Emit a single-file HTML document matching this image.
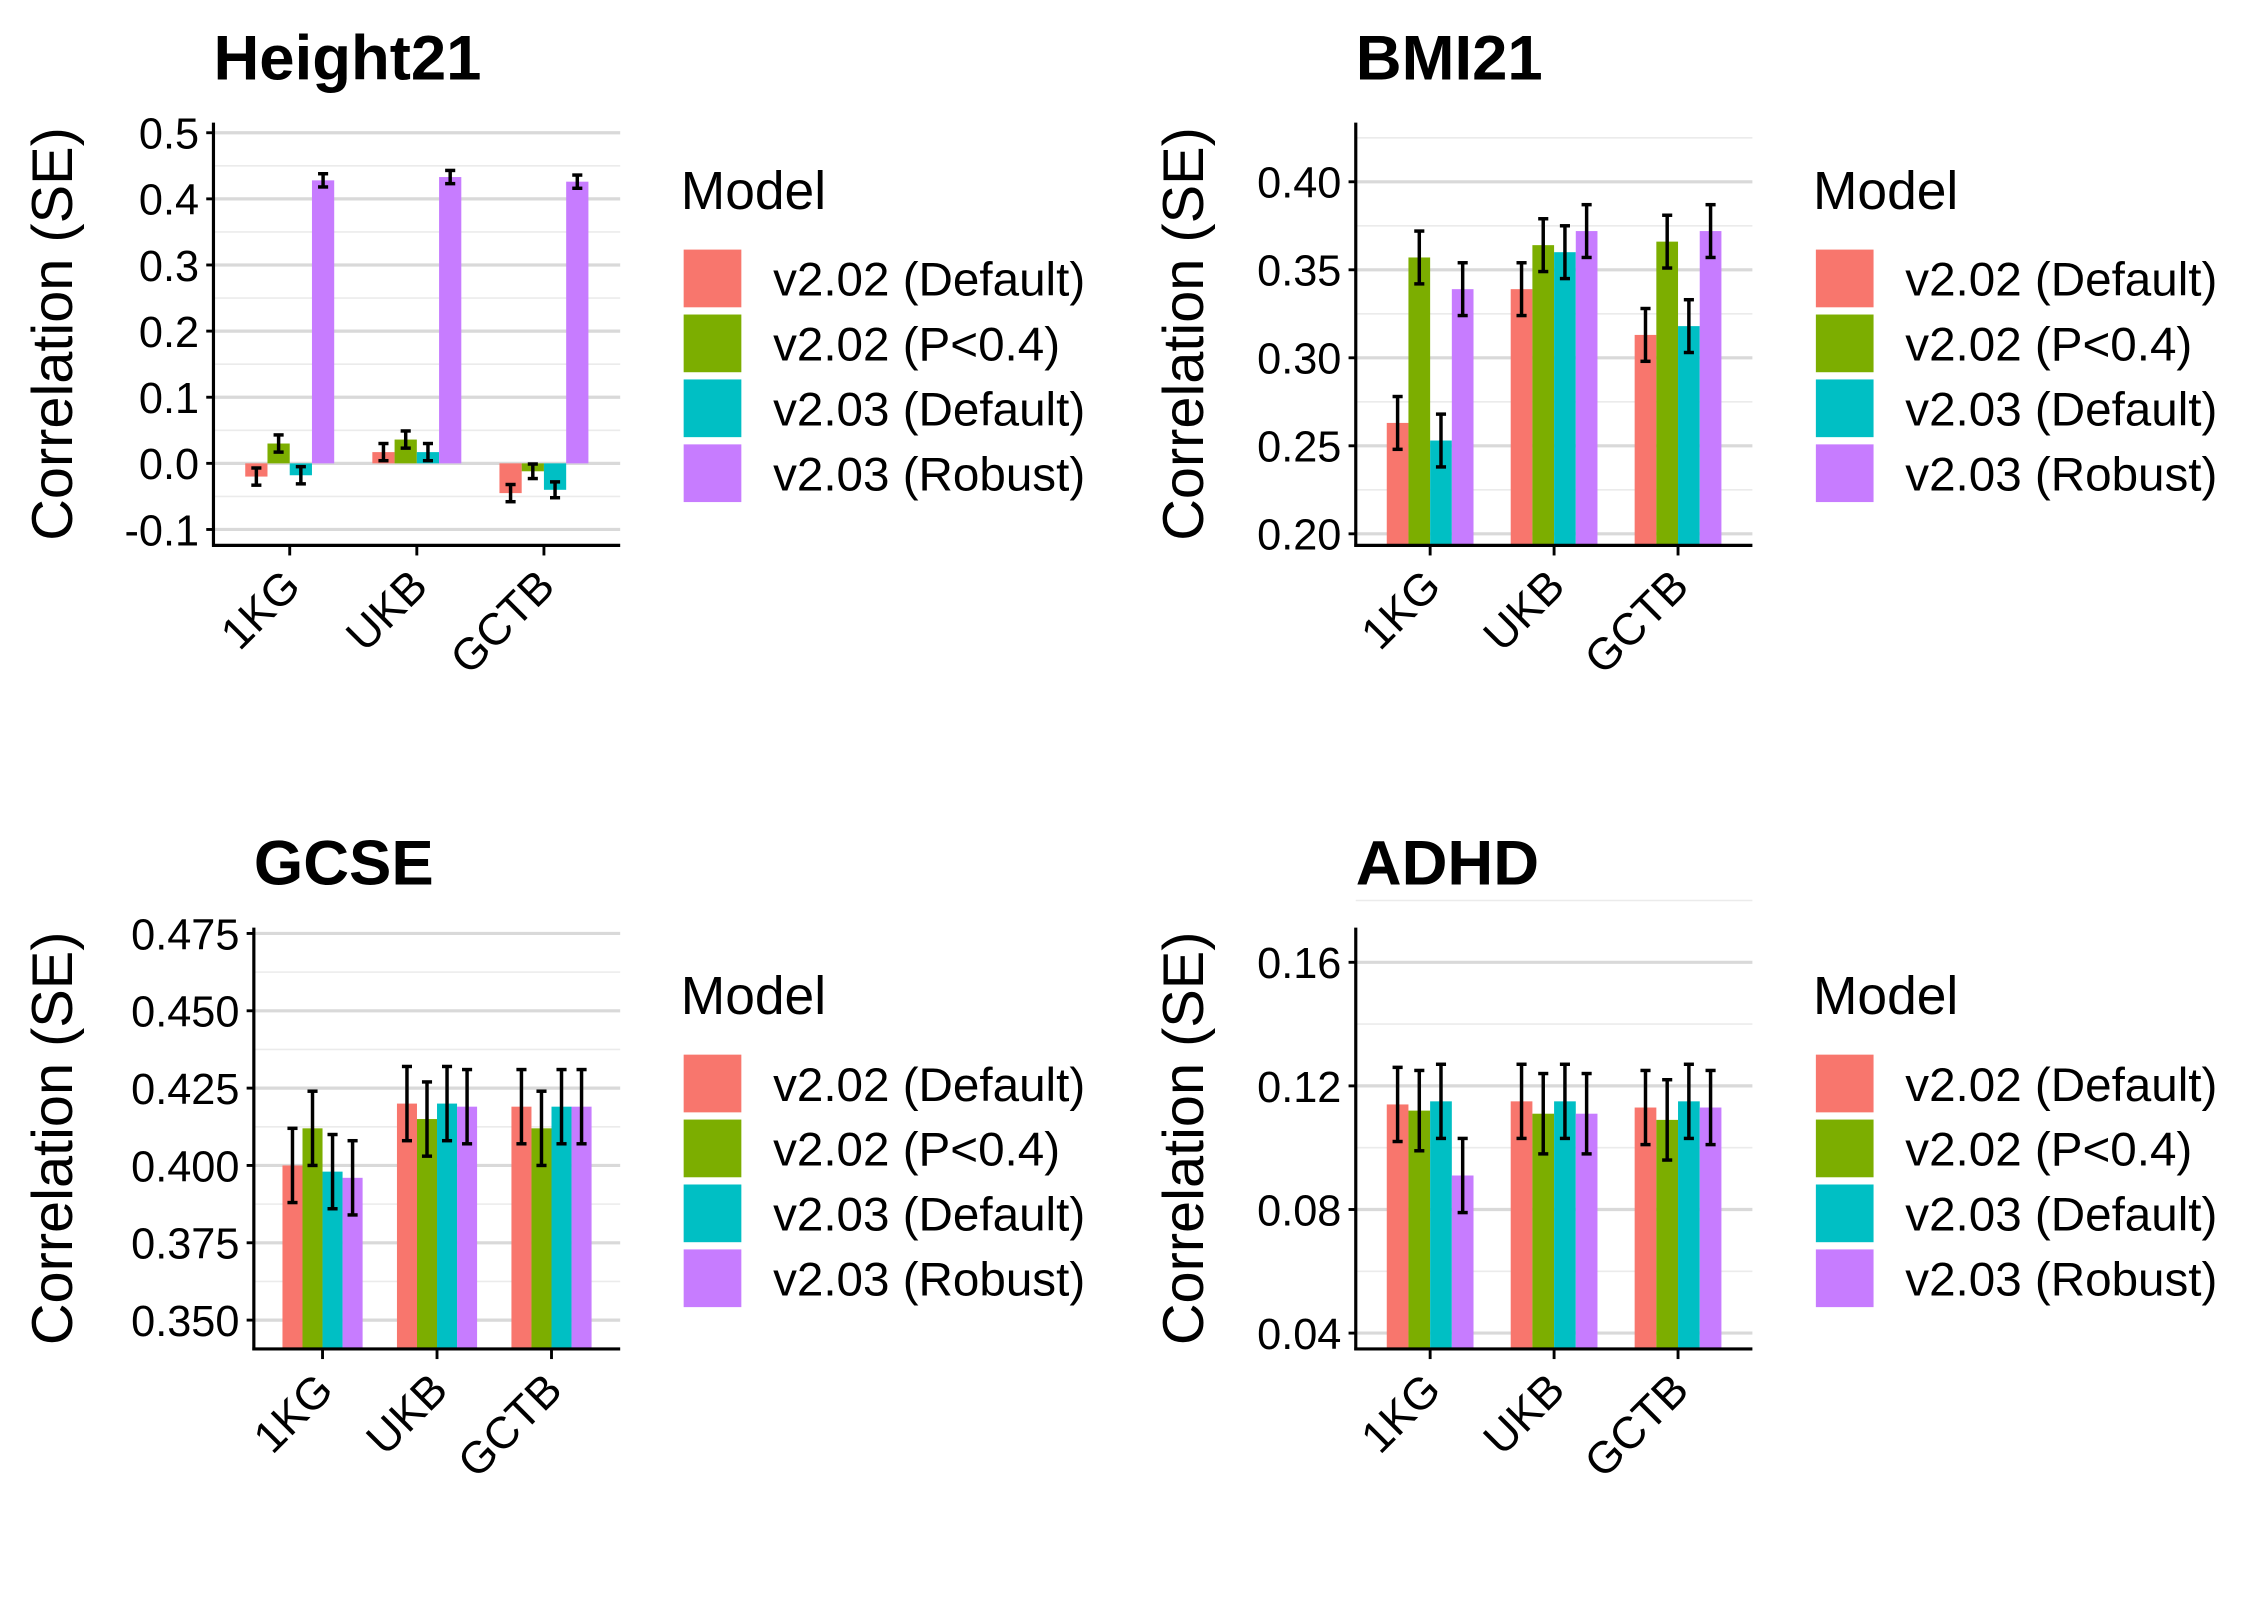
<!DOCTYPE html>
<html><head><meta charset="utf-8"><style>
html,body{margin:0;padding:0;background:#fff;width:2250px;height:1600px;overflow:hidden;}
svg{display:block;font-family:"Liberation Sans",Arial,sans-serif;}
</style></head><body>
<svg id="chart" width="2250" height="1600" viewBox="0 0 1560 1109" preserveAspectRatio="none" xmlns="http://www.w3.org/2000/svg"></svg>
<script>
const categories = ["1KG","UKB","GCTB"];
const models = ["v2.02 (Default)","v2.02 (P<0.4)","v2.03 (Default)","v2.03 (Robust)"];
const colors = ["#F8766D","#7CAE00","#00BFC4","#C77CFF"];

const heightVals = [[-0.020,0.030,-0.018,0.428],[0.017,0.036,0.017,0.433],[-0.045,-0.012,-0.040,0.426]];
const heightSE = [[0.013,0.013,0.013,0.010],[0.013,0.013,0.013,0.010],[0.013,0.011,0.012,0.010]];
const heightTicks = [-0.1,0,0.1,0.2,0.3,0.4,0.5];
const heightTickLabels = ["-0.1","0.0","0.1","0.2","0.3","0.4","0.5"];

const bmiVals = [[0.263,0.357,0.253,0.339],[0.339,0.364,0.360,0.372],[0.313,0.366,0.318,0.372]];
const bmiSE = [[0.015,0.015,0.015,0.015],[0.015,0.015,0.015,0.015],[0.015,0.015,0.015,0.015]];
const bmiTicks = [0.20,0.25,0.30,0.35,0.40];
const bmiTickLabels = ["0.20","0.25","0.30","0.35","0.40"];

const gcseVals = [[0.400,0.412,0.398,0.396],[0.420,0.415,0.420,0.419],[0.419,0.412,0.419,0.419]];
const gcseSE = [[0.012,0.012,0.012,0.012],[0.012,0.012,0.012,0.012],[0.012,0.012,0.012,0.012]];
const gcseTicks = [0.350,0.375,0.400,0.425,0.450,0.475];
const gcseTickLabels = ["0.350","0.375","0.400","0.425","0.450","0.475"];

const adhdVals = [[0.114,0.112,0.115,0.091],[0.115,0.111,0.115,0.111],[0.113,0.109,0.115,0.113]];
const adhdSE = [[0.012,0.013,0.012,0.012],[0.012,0.013,0.012,0.013],[0.012,0.013,0.012,0.012]];
const adhdTicks = [0.04,0.08,0.12,0.16];
const adhdTickLabels = ["0.04","0.08","0.12","0.16"];

const NS="http://www.w3.org/2000/svg";
const svg=document.getElementById('chart');
function mk(tag,attrs,parent,text){const e=document.createElementNS(NS,tag);for(const k in attrs)e.setAttribute(k,attrs[k]);if(text!==undefined)e.textContent=text;(parent||svg).appendChild(e);return e;}

function panel(cfg){
  const g=mk('g',{});
  
  
  const {x0,x1,yTop,yBot,vTop,vBot}=cfg;
  const y=v=>yBot-(v-vBot)/(vTop-vBot)*(yBot-yTop);
  const step=(x1-x0)/3.2;
  const cx=i=>x0+step*(i+0.6);
  const bw=step*0.7/4;
  for(let i=0;i<cfg.ticks.length-1;i++){
    const m=(cfg.ticks[i]+cfg.ticks[i+1])/2;
    const ln=mk('line',{x1:x0,x2:x1,y1:y(m),y2:y(m),stroke:'#ebebeb','stroke-width':1.1},g);
    
    
  }
  if(cfg.extraMinor!==undefined){const ln=mk('line',{x1:x0,x2:x1,y1:y(cfg.extraMinor),y2:y(cfg.extraMinor),stroke:'#ebebeb','stroke-width':1.1},g);}
  cfg.ticks.forEach((t,i)=>{
    const ln=mk('line',{x1:x0,x2:x1,y1:y(t),y2:y(t),stroke:'#d9d9d9','stroke-width':2.2},g);
    
    
    mk('line',{x1:x0-5,x2:x0,y1:y(t),y2:y(t),stroke:'#000','stroke-width':2},g);
    const tl=mk('text',{x:x0-10,y:y(t)+11,'text-anchor':'end','font-size':30,fill:'#000'},g,cfg.labels[i]);
    
    
  });
  const clipId='clip-'+cfg.name;
  const cp=mk('clipPath',{id:clipId},g);mk('rect',{x:x0,y:yTop,width:x1-x0,height:yBot-yTop},cp);
  const bars=mk('g',{'clip-path':'url(#'+clipId+')'},g);
  cfg.vals.forEach((row,ci)=>{
    row.forEach((v,mi)=>{
      const bx=cx(ci)-2*bw+mi*bw;
      const ya=y(v), yb=y(Math.max(0,vBot-1));
      const r=mk('rect',{x:bx,y:Math.min(ya,yb),width:bw,height:Math.abs(yb-ya),fill:colors[mi]},bars);
      
      
      const se=cfg.se[ci][mi], ex=bx+bw/2;
      const eb=mk('g',{stroke:'#000','stroke-width':2.4},g);
      
      
      mk('line',{x1:ex,x2:ex,y1:y(v+se),y2:y(v-se)},eb);
      mk('line',{x1:ex-3.5,x2:ex+3.5,y1:y(v+se),y2:y(v+se)},eb);
      mk('line',{x1:ex-3.5,x2:ex+3.5,y1:y(v-se),y2:y(v-se)},eb);
    });
  });
  const ya=mk('line',{x1:x0,x2:x0,y1:yTop,y2:yBot+1,stroke:'#000','stroke-width':2.2},g);
  
  
  const xa=mk('line',{x1:x0-1,x2:x1,y1:yBot,y2:yBot,stroke:'#000','stroke-width':2.2},g);
  
  
  categories.forEach((c,i)=>{
    mk('line',{x1:cx(i),x2:cx(i),y1:yBot,y2:yBot+7,stroke:'#000','stroke-width':2},g);
    const t=mk('text',{x:cx(i)+9,y:yBot+30,'text-anchor':'end','font-size':31,transform:`rotate(-45 ${cx(i)+9} ${yBot+30})`},g,c);
    
    
  });
  const yt=mk('text',{x:0,y:0,'text-anchor':'middle','font-size':40,transform:`translate(${cfg.yTitleX} ${(yTop+yBot)/2}) rotate(-90)`},g,'Correlation (SE)');
  
  
  const tt=mk('text',{x:cfg.titleX,y:yTop-30,'font-size':44,'font-weight':'bold'},g,cfg.title);
  
  
  const lg=mk('g',{},g);
  
  
  mk('text',{x:cfg.legX,y:cfg.legY,'font-size':37},lg,'Model');
  models.forEach((m,i)=>{
    const ky=cfg.legY+28+i*45;
    const k=mk('rect',{x:cfg.legX+2,y:ky,width:40,height:40,fill:colors[i]},lg);
    
    
    const lt=mk('text',{x:cfg.legX+64,y:ky+32,'font-size':33},lg,m);
    
    
  });
}

panel({name:'height21',title:'Height21',titleX:148,x0:148,x1:430,yTop:85,yBot:378,vTop:0.5+7/45.8*0.1,vBot:-0.1-11/45.8*0.1,ticks:heightTicks,labels:heightTickLabels,vals:heightVals,se:heightSE,yTitleX:50,legX:472,legY:145});
panel({name:'bmi21',title:'BMI21',titleX:940,x0:940,x1:1215,yTop:85,yBot:378,vTop:0.40+41/61*0.05,vBot:0.20-8/61*0.05,ticks:bmiTicks,labels:bmiTickLabels,vals:bmiVals,se:bmiSE,extraMinor:0.425,yTitleX:834,legX:1257,legY:145});
panel({name:'gcse',title:'GCSE',titleX:176,x0:176,x1:430,yTop:643,yBot:935,vTop:0.475+4/53.6*0.025,vBot:0.350-20/53.6*0.025,ticks:gcseTicks,labels:gcseTickLabels,vals:gcseVals,se:gcseSE,yTitleX:50,legX:472,legY:703});
panel({name:'adhd',title:'ADHD',titleX:940,x0:940,x1:1215,yTop:643,yBot:935,vTop:0.16+24/85.7*0.04,vBot:0.04-11/85.7*0.04,ticks:adhdTicks,labels:adhdTickLabels,vals:adhdVals,se:adhdSE,extraMinor:0.18,yTitleX:834,legX:1257,legY:703});
</script>
</body></html>
